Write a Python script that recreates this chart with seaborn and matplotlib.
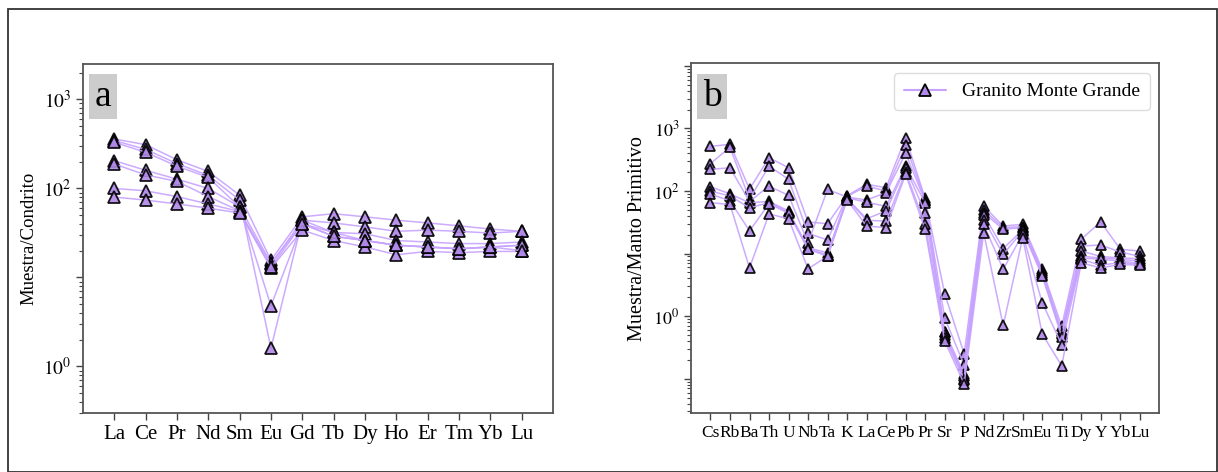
import matplotlib
matplotlib.use("Agg")
import matplotlib.pyplot as plt
from matplotlib.lines import Line2D
from matplotlib.patches import Rectangle
import numpy as np
import pandas as pd
import seaborn as sns

# ── data ─────────────────────────────────────────────────────────────────────
ree = ["La", "Ce", "Pr", "Nd", "Sm", "Eu", "Gd", "Tb", "Dy", "Ho", "Er", "Tm", "Yb", "Lu"]
ree_s1 = [360, 310, 210, 155, 84, 15.6, 48, 52, 48, 44, 41, 38, 35, 33]
ree_s2 = [345, 275, 190, 140, 74, 1.6, 44, 41, 37, 33, 34, 33, 31.5, 33]
ree_s3 = [330, 255, 178, 133, 62, 4.8, 40, 32, 31, 26, 25, 24, 24, 25]
ree_s4 = [205, 160, 127, 100, 62, 14.5, 40, 29, 26, 23, 22, 21, 22, 23]
ree_s5 = [188, 142, 120, 81, 56, 12.7, 34, 26, 22, 18, 19.6, 19, 19.6, 19.6]
ree_s6 = [100, 94, 81, 67, 55, 14, 44, 32, 26, 23, 22, 21, 22, 23]
ree_s7 = [80, 74, 67, 60, 53, 13, 40, 29, 26, 23, 22, 21, 22, 20]

spider = ["Cs", "Rb", "Ba", "Th", "U", "Nb", "Ta", "K", "La", "Ce", "Pb", "Pr",
          "Sr", "P", "Nd", "Zr", "Sm", "Eu", "Ti", "Dy", "Y", "Yb", "Lu"]
sp_s1 = [515, 560, 107, 340, 236, 32, 30, 84, 128, 113, 715, 76, 2.29, 0.25, 57.5, 27.5, 29.4, 5.6, 0.69, 17, 32, 11.7, 11]
sp_s2 = [275, 500, 74, 250, 154, 21, 16.5, 82, 120, 100, 540, 72, 0.94, 0.165, 50, 26, 27, 5.2, 0.58, 13.2, 13.7, 10.6, 9]
sp_s3 = [222, 235, 68, 120, 85, 14.9, 106, 80, 72, 94, 400, 69, 0.56, 0.12, 45, 24.4, 26, 4.9, 0.53, 11, 9, 8.5, 8.3]
sp_s4 = [117, 90, 65, 68, 48, 12.4, 10.3, 78, 66, 57, 250, 65, 0.55, 0.11, 42, 12, 24, 4.6, 0.51, 9.1, 8.5, 8.1, 7.6]
sp_s5 = [100, 83, 54, 65, 46, 12, 9.5, 76, 36, 48, 237, 45, 0.5, 0.1, 35, 9.7, 23, 4.4, 0.47, 8.5, 8.1, 7.6, 7]
sp_s6 = [89, 70, 23, 63, 44, 11.7, 9.1, 74, 34, 33, 200, 29.4, 0.45, 0.097, 29.5, 5.6, 20.3, 1.64, 0.35, 8.1, 6.5, 7.2, 6.7]
sp_s7 = [65, 61, 5.9, 43, 36, 5.7, 9.1, 72, 27.5, 26, 185, 24.4, 0.40, 0.083, 21.6, 0.71, 18, 0.52, 0.16, 7.1, 5.9, 6.7, 6.5]

legend_label = "Granito Monte Grande"

line_color = "#c7a2ff"
face_color = "#b088e8"


def long_form(elements, samples):
    rows = []
    for i, vals in enumerate(samples):
        for j, v in enumerate(vals):
            rows.append({"sample": i, "x": j, "el": elements[j], "value": v})
    return pd.DataFrame(rows)


df_a = long_form(ree, [ree_s1, ree_s2, ree_s3, ree_s4, ree_s5, ree_s6, ree_s7])
df_b = long_form(spider, [sp_s1, sp_s2, sp_s3, sp_s4, sp_s5, sp_s6, sp_s7])

sns.set_style("ticks")
plt.rcParams["font.family"] = ["Liberation Serif", "DejaVu Serif"]
plt.rcParams["mathtext.fontset"] = "stix"
plt.rcParams["text.color"] = "black"
plt.rcParams["axes.labelcolor"] = "black"
plt.rcParams["xtick.color"] = "black"
plt.rcParams["ytick.color"] = "black"

fig = plt.figure(figsize=(12.18, 4.72), dpi=100)
ax_a = fig.add_axes([0.0681, 0.125, 0.3859, 0.7394])
ax_b = fig.add_axes([0.5673, 0.1244, 0.3845, 0.7415])

# outer frame
fig.patches.append(Rectangle((8 / 1218, 0.5 / 472), 1208.5 / 1218, 463 / 472,
                             transform=fig.transFigure, fill=False,
                             edgecolor="#333333", linewidth=1.3))


def draw(ax, df, elements, ms, xfs, yfs, ylim, yticks, ylabels, ylabel, lfs, letter):
    sns.lineplot(data=df, x="x", y="value", units="sample", estimator=None,
                 sort=False, ax=ax, color=line_color, linewidth=1.1, alpha=0.9,
                 marker="^", markersize=ms, markerfacecolor=face_color,
                 markeredgecolor="black", markeredgewidth=1.3, legend=False)
    ax.set_yscale("log")
    ax.set_ylim(*ylim)
    ax.set_xlim(-1, len(elements))
    ax.set_xticks(range(len(elements)))
    ax.set_xticklabels(elements, fontsize=xfs)
    ax.set_yticks(yticks)
    ax.set_yticklabels(ylabels, fontsize=yfs)
    ax.set_xlabel("")
    ax.set_ylabel(ylabel, fontsize=lfs)
    ax.tick_params(axis="both", which="major", length=5, width=1, color="#444444",
                   labelcolor="black")
    ax.tick_params(axis="y", which="minor", length=3, width=0.8, color="#444444")
    for s in ax.spines.values():
        s.set_color("#555555")
        s.set_linewidth(1.3)
    ax.text(0.025, 0.955, letter, transform=ax.transAxes, fontsize=27,
            va="top", ha="left", color="black",
            bbox=dict(boxstyle="square,pad=0.14", facecolor="#cccccc", edgecolor="none"))


draw(ax_a, df_a, ree, 9, 15, 14, (0.3, 2500), [1, 10, 100, 1000],
     ["$10^0$", "", "$10^2$", "$10^3$"], "Muestra/Condrito", 13.5, "a")
draw(ax_b, df_b, spider, 7.5, 12.5, 13, (0.028, 11000), [0.1, 1, 10, 100, 1000, 10000],
     ["", "$10^0$", "", "$10^2$", "$10^3$", ""], "Muestra/Manto Primitivo", 14.5, "b")

handle = Line2D([], [], color=line_color, linewidth=1.5, marker="^", markersize=9,
                markerfacecolor=face_color, markeredgecolor="black", markeredgewidth=1.3)
ax_b.legend([handle], [legend_label], loc="upper right", fontsize=14,
            frameon=True, fancybox=True, framealpha=1, edgecolor="#dddddd",
            handlelength=2.2, borderpad=0.5, labelcolor="black")

fig.savefig("out.png", dpi=100)
